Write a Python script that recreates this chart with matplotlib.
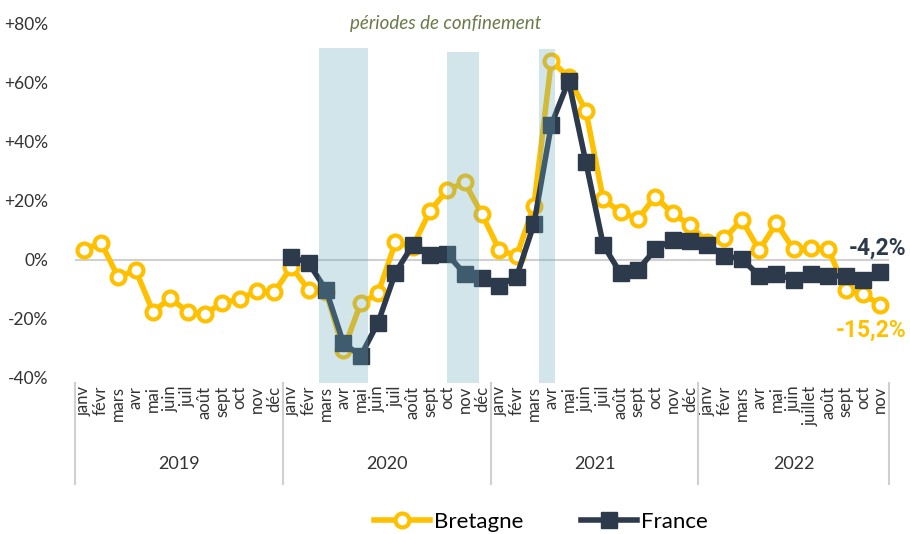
import matplotlib
matplotlib.use("Agg")
import matplotlib.pyplot as plt
import matplotlib.transforms as mtransforms
from matplotlib.patches import Rectangle

plt.rcParams['font.family'] = ['Lato', 'DejaVu Sans']

years = ["2019", "2020", "2021", "2022"]
months_std = ["janv", "févr", "mars", "avr", "mai", "juin", "juil", "août", "sept", "oct", "nov", "déc"]
months_2022 = ["janv", "févr", "mars", "avr", "mai", "juin", "juillet", "août", "sept", "oct", "nov"]
month_labels = months_std * 3 + months_2022

bretagne = [3.4, 5.9, -5.9, -3.4, -17.5, -13.0, -17.5, -18.4, -14.5, -13.3, -10.5, -11.0,
            -2.3, -10.2, -11.0, -30.5, -14.7, -11.3, 6.0, 4.5, 16.7, 23.7, 26.3, 15.5,
            3.4, 1.4, 18.4, 67.5, 62.0, 50.5, 20.6, 16.2, 13.9, 21.5, 15.8, 11.9,
            6.0, 7.3, 13.6, 3.4, 12.4, 3.6, 4.0, 3.6, -10.2, -11.6, -15.2]
france = [1.1, -1.1, -10.2, -28.2, -32.5, -21.2, -4.3, 5.1, 1.7, 1.9, -4.7, -6.2,
          -8.7, -5.6, 12.2, 45.8, 60.7, 33.1, 5.1, -4.5, -3.4, 3.6, 6.8, 6.4,
          5.1, 1.5, 0.3, -5.3, -4.7, -6.8, -4.7, -5.4, -5.4, -6.8, -4.2]
france_start = 12

# lockdown periods (x-start, x-end in month index, top value)
lockdowns = [(13.6, 16.4, 72.0), (21.0, 22.85, 70.6), (26.3, 27.2, 71.5)]

yticks = [-40, -20, 0, 20, 40, 60, 80]
ytick_labels = ["-40%", "-20%", "0%", "+20%", "+40%", "+60%", "+80%"]

gold = "#ffc000"
navy = "#2d3a4c"
text_col = "#333333"

fig = plt.figure(figsize=(9.1, 5.34), dpi=100)
ax = fig.add_axes([75/910, 1-383/534, (889-75)/910, (383-24)/534])

n = len(bretagne)
x_b = list(range(n))
x_f = list(range(france_start, france_start + len(france)))

ax.axhline(0, color="#d0d0d0", lw=1.5, zorder=1)

ax.plot(x_b, bretagne, color=gold, lw=4, marker="o", ms=10, mfc="white",
        mec=gold, mew=3, zorder=3, label="Bretagne")
ax.plot(x_f, france, color=navy, lw=4, marker="s", ms=11, mfc=navy,
        mec=navy, zorder=4, label="France")

ymin = -41.7
for x0, x1, top in lockdowns:
    ax.add_patch(Rectangle((x0, ymin), x1 - x0, top - ymin, facecolor="#69acc0",
                           alpha=0.3, edgecolor="none", zorder=5))

ax.set_xlim(-0.5, n - 0.5)
ax.set_ylim(ymin, 80)
ax.set_yticks(yticks)
ax.set_yticklabels(ytick_labels, fontsize=12.5, color=text_col)
ax.tick_params(axis="y", length=0, pad=19)
ax.set_xticks(x_b)
ax.set_xticklabels(month_labels, rotation=90, fontsize=12, color=text_col,
                   va="top")
ax.tick_params(axis="x", length=0, pad=2)
for s in ax.spines.values():
    s.set_visible(False)

trans = mtransforms.blended_transform_factory(ax.transData, ax.transAxes)
for b in [-0.5, 11.5, 23.5, 35.5, 46.5]:
    ax.plot([b, b], [0.0, -0.28], transform=trans, color="#d0d0d0", lw=1.5,
            clip_on=False)
for i, yr in enumerate(years):
    ax.text(i * 12 + 5.5 if i < 3 else 41, -0.225, yr, transform=trans,
            ha="center", va="center", fontsize=13, color=text_col)

ax.text(0.455, 1.0, "périodes de confinement", transform=ax.transAxes,
        ha="center", va="center", fontsize=13.5, style="italic", color="#6b7a4a")

bold_family = ['Roboto', 'DejaVu Sans']
ax.text(45.85, 4.1, "-4,2%", ha="center", va="center", family=bold_family,
        fontsize=16.5, fontweight="bold", color=navy, clip_on=False)
ax.text(45.45, -23.7, "-15,2%", ha="center", va="center", family=bold_family,
        fontsize=16.5, fontweight="bold", color=gold, clip_on=False)

fig.legend(loc="center", bbox_to_anchor=(541/910, 1 - 522/534), ncol=2,
           frameon=False, handlelength=2.5, columnspacing=2.6,
           handletextpad=0.2, prop={'size': 16})

fig.savefig("out.png", dpi=100)
